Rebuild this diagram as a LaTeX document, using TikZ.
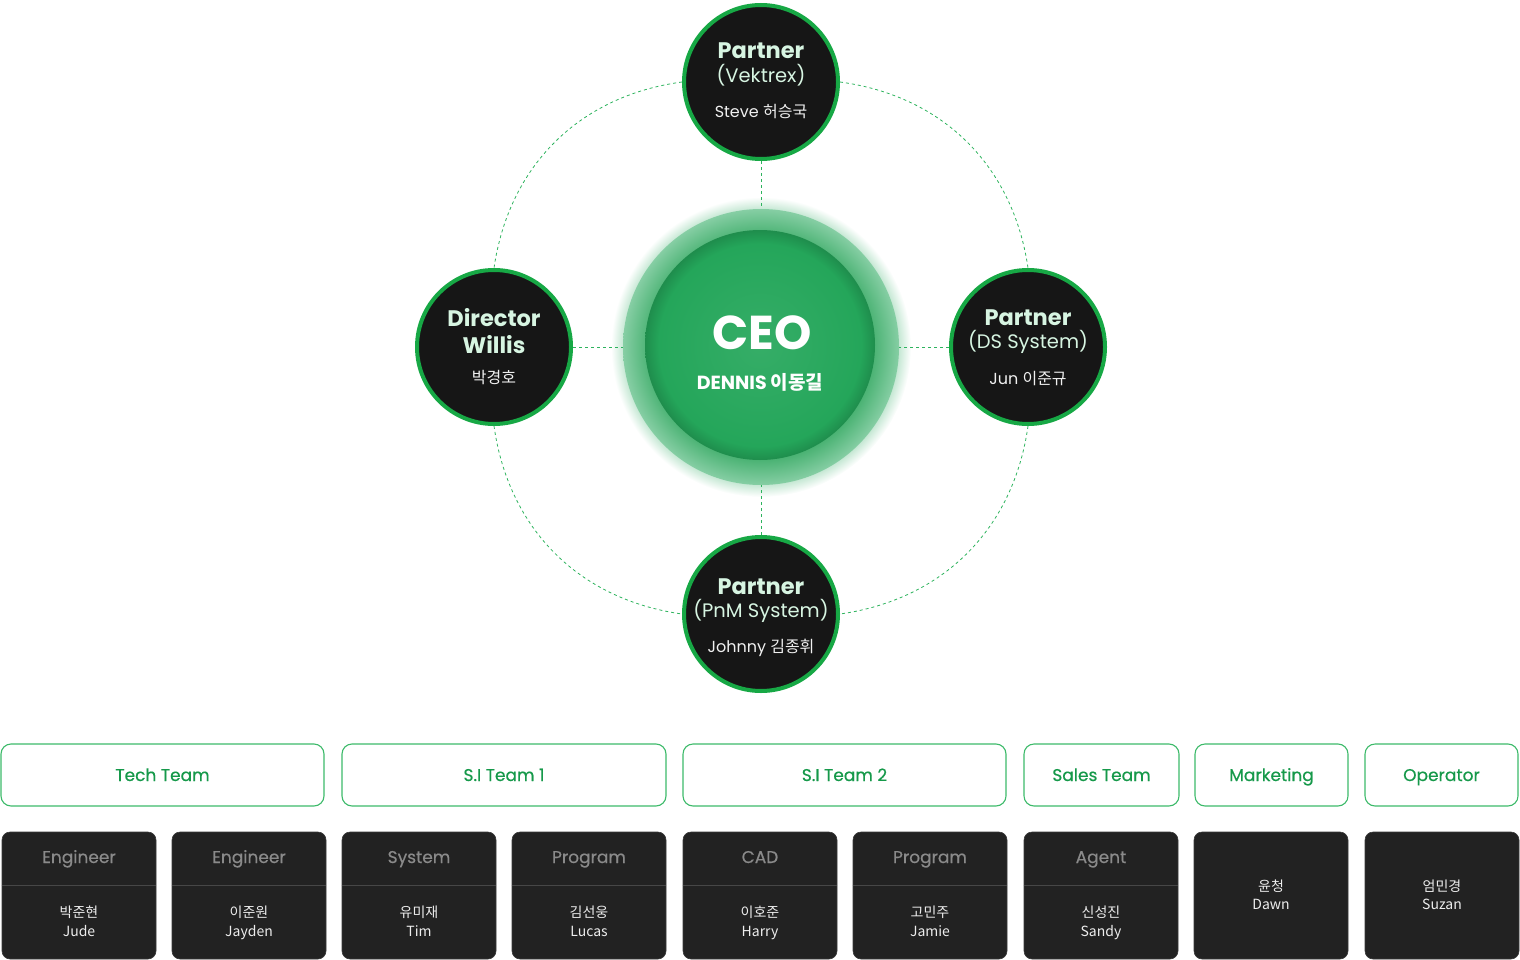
\documentclass[tikz,border=0pt]{standalone}
\usepackage{fontspec}
\setmainfont{Poppins}
\newfontfamily\kr{Noto Sans CJK KR}
\newfontfamily\popmed{Poppins}[FakeBold=0.5]
\definecolor{gborder}{HTML}{17A845}
\definecolor{darkfill}{HTML}{161616}
\definecolor{mint}{HTML}{D7F5E2}
\definecolor{dashgreen}{HTML}{2DB35D}
\definecolor{teamgreen}{HTML}{16994A}
\definecolor{teamborder}{HTML}{3DBA6A}
\definecolor{boxdark}{HTML}{222222}
\definecolor{boxedge}{HTML}{3A3A3A}
\definecolor{graytxt}{HTML}{8A8A8A}
\definecolor{divline}{HTML}{474747}
\definecolor{ceoin}{HTML}{24A65A}
\definecolor{ceoring}{HTML}{45B06F}
\definecolor{ceoedge}{HTML}{86CEA4}
\pgfdeclareradialshading{ceoglow}{\pgfpoint{0bp}{0bp}}{color(0bp)=(ceoedge); color(22bp)=(ceoedge!70!white); color(25bp)=(white); color(50bp)=(white)}
\pgfdeclareradialshading{ceoringsh}{\pgfpoint{0bp}{0bp}}{color(0bp)=(ceoring); color(20bp)=(ceoring); color(25bp)=(ceoedge); color(50bp)=(ceoedge)}
\pgfdeclareradialshading{ceoinsh}{\pgfpoint{0bp}{0bp}}{color(0bp)=(ceoin!92!white); color(22bp)=(ceoin); color(25bp)=(ceoin!85!black); color(50bp)=(ceoin!85!black)}
\tikzset{
  pcirc/.style={circle, draw=gborder, line width=4pt, fill=darkfill, minimum size=154pt, inner sep=0pt},
  dashline/.style={draw=dashgreen, line width=0.8pt, dash pattern=on 3pt off 3pt},
  ptitle/.style={text=mint, font=\bfseries\fontsize{22.5}{25}\selectfont},
  psub/.style={text=mint, font=\fontsize{19.5}{22}\selectfont},
  pname/.style={text=white!94!black, font=\fontsize{16}{19}\selectfont},
  team/.style={draw=teamborder, line width=1.1pt, rounded corners=10pt, fill=white, minimum height=62pt, text=teamgreen, text height=15pt, text depth=3pt, font=\popmed\fontsize{17}{20}\selectfont},
  staff/.style={draw=boxedge, line width=0.6pt, fill=boxdark, rounded corners=8pt, minimum width=154pt, minimum height=127pt},
  divstyle/.style={draw=divline, line width=0.8pt},
  role/.style={text=graytxt, text height=12pt, text depth=4pt, font=\popmed\fontsize{17}{20}\selectfont},
  who/.style={text=white!93!black, align=center, text depth=4pt, font=\kr\fontsize{14}{18.5}\selectfont},
}
\newcommand\staffbox[5]{%
  \node[staff] (#1) at (#2,895.5) {};
  \draw[divstyle] ([yshift=-54pt]#1.north west) -- ([yshift=-54pt]#1.north east);
  \node[role] (#1r) at (#2,859) {#3};
  \node[who] (#1n) at (#2,923) {#4\\#5};
}
\newcommand\staffsingle[4]{%
  \node[staff] (#1) at (#2,895.5) {};
  \node[who] (#1n) at (#2,896.5) {#3\\#4};
}
\begin{document}
\begin{tikzpicture}[x=1pt,y=-1pt]
\useasboundingbox (0,0) rectangle (1520,960);
\coordinate (c) at (761,347);
% CEO
\shade[shading=ceoglow] (c) circle (150);
\shade[shading=ceoringsh] (c) circle (138);
\shade[shading=ceoinsh] (760,345) circle (115);
\node[circle, minimum size=276pt, inner sep=0pt] (ceo) at (c) {};
\node[text=white, font=\bfseries\fontsize{47.5}{52}\selectfont] (ceot) at (762,333) {CEO};
\node[text=white, font=\bfseries\fontsize{19}{22}\selectfont] (ceon) at (760,382) {DENNIS {\kr 이동길}};
% partner circles
\node[pcirc] (top) at (761,82) {};
\node[pcirc] (left) at (494,347) {};
\node[pcirc] (right) at (1028,347) {};
\node[pcirc] (bot) at (761,614) {};
% orbit arcs
\draw[dashline] (top.west) to[bend right=37] (left.north);
\draw[dashline] (top.east) to[bend left=37] (right.north);
\draw[dashline] (left.south) to[bend right=37] (bot.west);
\draw[dashline] (right.south) to[bend left=37] (bot.east);
\draw[dashline] (top) -- (ceo);
\draw[dashline] (left) -- (ceo);
\draw[dashline] (right) -- (ceo);
\draw[dashline] (bot) -- (ceo);
% texts
\node[ptitle] (topa) at (761,51) {Partner};
\node[psub] (topb) at (761,75) {(Vektrex)};
\node[pname] (topc) at (761,112) {Steve {\kr 허승국}};
\node[ptitle] (lefta) at (494,318) {Director};
\node[ptitle] (leftb) at (494,345) {Willis};
\node[pname] (leftc) at (494,378) {\kr 박경호};
\node[ptitle] (righta) at (1028,318) {Partner};
\node[psub] (rightb) at (1028,342) {(DS System)};
\node[pname] (rightc) at (1028,379) {Jun {\kr 이준규}};
\node[ptitle] (bota) at (761,587) {Partner};
\node[psub] (botb) at (761,611) {(PnM System)};
\node[pname] (botc) at (761,648) {Johnny {\kr 김종휘}};
% teams
\node[team, minimum width=323pt] (t1) at (162.5,775) {Tech Team};
\node[team, minimum width=324pt] (t2) at (504,775) {S.I Team 1};
\node[team, minimum width=323pt] (t3) at (844.5,775) {S.I Team 2};
\node[team, minimum width=155pt] (t4) at (1101.5,775) {Sales Team};
\node[team, minimum width=153pt] (t5) at (1271.5,775) {Marketing};
\node[team, minimum width=153pt] (t6) at (1441.5,775) {Operator};
% staff
\staffbox{s1}{79}{Engineer}{박준현}{Jude}
\staffbox{s2}{249}{Engineer}{이준원}{Jayden}
\staffbox{s3}{419}{System}{유미재}{Tim}
\staffbox{s4}{589}{Program}{김선웅}{Lucas}
\staffbox{s5}{760}{CAD}{이호준}{Harry}
\staffbox{s6}{930}{Program}{고민주}{Jamie}
\staffbox{s7}{1101}{Agent}{신성진}{Sandy}
\staffsingle{s8}{1271}{윤청}{Dawn}
\staffsingle{s9}{1442}{엄민경}{Suzan}
\end{tikzpicture}
\end{document}
